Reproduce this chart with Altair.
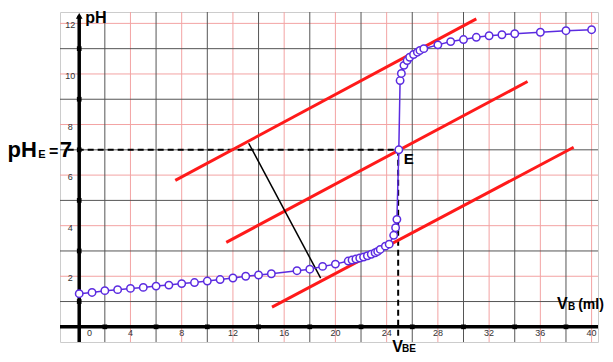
import altair as alt
import pandas as pd

# ---- titration curve (volume of base in ml, pH) ----
vb = [0, 1, 2, 3, 4, 5, 6, 7, 8, 9, 10, 11, 12, 13, 14, 15, 17, 18, 19, 20,
      21.0, 21.3, 21.6, 21.9, 22.2, 22.5, 22.8, 23.1, 23.3, 23.5, 23.9, 24.2,
      24.55, 24.7, 24.8, 24.95, 25.05, 25.15, 25.35, 25.6, 25.8, 26.1, 26.4,
      26.6, 26.9, 28, 29, 30, 31, 32, 33, 34, 36, 38, 40]
ph = [1.31, 1.36, 1.43, 1.47, 1.52, 1.56, 1.61, 1.65, 1.71, 1.75, 1.81, 1.87,
      1.93, 2.0, 2.05, 2.10, 2.22, 2.28, 2.39, 2.48,
      2.60, 2.64, 2.68, 2.72, 2.76, 2.81, 2.87, 2.93, 2.98, 3.06, 3.19, 3.27,
      3.62, 3.92, 4.25, 7.0, 9.74, 10.02, 10.34, 10.53, 10.66, 10.77, 10.86,
      10.93, 11.0, 11.15, 11.28, 11.36, 11.45, 11.51, 11.55, 11.59, 11.65,
      11.71, 11.75]

# ---- parallel tangents (start x, start y, end x, end y) ----
tan_x1 = [7.5, 11.48, 15.05]
tan_y1 = [5.79, 3.34, 0.78]
tan_x2 = [31.0, 35.0, 38.6]
tan_y2 = [12.18, 9.70, 7.10]

# ---- perpendicular segment ----
perp_x = [13.23, 18.85]
perp_y = [7.26, 1.93]

# ---- equivalence point ----
ph_e = 7
vb_e = 24.9

# ---- grid / ticks ----
x_dom = [-1.5, 40.5]
y_dom = [-0.6, 12.45]
grid_v_red = list(range(4, 41, 4))
grid_v_black = list(range(2, 39, 4))
grid_h_red = list(range(2, 13, 2))
grid_h_black = list(range(1, 12, 2))
xtick_labels = ["0", "4", "8", "12", "16", "20", "24", "28", "32", "36", "40"]
xtick_pos = [0.8, 4, 8, 12, 16, 20, 24, 28, 32, 36, 40]
ytick_labels = ["2", "4", "6", "8", "10", "12"]
ytick_pos = [2, 4, 6, 8, 10, 12]

FONT = "Liberation Sans"
PURPLE = "#5b2be0"
RED = "#ff1a1a"

xs = alt.Scale(domain=x_dom, nice=False, zero=False)
ys = alt.Scale(domain=y_dom, nice=False, zero=False)


def X(f="x"):
    return alt.X(f"{f}:Q", scale=xs, axis=None)


def Y(f="y"):
    return alt.Y(f"{f}:Q", scale=ys, axis=None)


def rules(rows):
    return pd.DataFrame(rows, columns=["x", "y", "x2", "y2"])


vred = rules([(v, y_dom[0], v, y_dom[1]) for v in grid_v_red])
vblack = rules([(v, y_dom[0], v, y_dom[1]) for v in grid_v_black])
hred = rules([(x_dom[0], v, x_dom[1], v) for v in grid_h_red])
hblack = rules([(x_dom[0], v, x_dom[1], v) for v in grid_h_black])
axes_df = rules([(0, y_dom[0], 0, 12.3), (x_dom[0], 0, x_dom[1], 0)])
dash_df = rules([(-0.9, ph_e, vb_e, ph_e), (vb_e, ph_e, vb_e, -0.35)])
tan_df = pd.DataFrame({"x": tan_x1, "y": tan_y1, "x2": tan_x2, "y2": tan_y2})
perp_df = rules([(perp_x[0], perp_y[0], perp_x[1], perp_y[1])])


def rule_layer(df, color, width, dash=None):
    kw = dict(color=color, strokeWidth=width)
    if dash:
        kw["strokeDash"] = dash
    return alt.Chart(df).mark_rule(**kw).encode(
        x=X("x"), y=Y("y"), x2="x2:Q", y2="y2:Q")


curve_df = pd.DataFrame({"x": vb, "y": ph})
curve_line = alt.Chart(curve_df).mark_line(color=PURPLE, strokeWidth=1.5).encode(
    x=X(), y=Y())
curve_pts = alt.Chart(curve_df).mark_point(
    shape="circle", filled=True, fill="white", stroke=PURPLE, strokeWidth=1.5,
    size=55, opacity=1).encode(x=X(), y=Y())

dots_df = pd.DataFrame(
    {"x": [0] * len(grid_h_black) + grid_v_black,
     "y": grid_h_black + [0] * len(grid_v_black)})
dots = alt.Chart(dots_df).mark_square(color="black", size=22, opacity=1).encode(
    x=X(), y=Y())

arrow = alt.Chart(pd.DataFrame({"x": [0], "y": [12.3]})).mark_point(
    shape="triangle-up", filled=True, color="black", size=45, opacity=1).encode(
    x=X(), y=Y())

xt_df = pd.DataFrame({"x": xtick_pos, "y": [-0.26] * len(xtick_pos), "t": xtick_labels})
yt_df = pd.DataFrame({"x": [-0.7] * len(ytick_pos), "y": ytick_pos, "t": ytick_labels})
xt = alt.Chart(xt_df).mark_text(font=FONT, fontSize=9, color="#333",
                                baseline="middle", align="center").encode(
    x=X(), y=Y(), text="t:N")
yt = alt.Chart(yt_df).mark_text(font=FONT, fontSize=9, color="#333",
                                baseline="middle", align="center", dy=2).encode(
    x=X(), y=Y(), text="t:N")


def label(x, y, t, size, align="left"):
    df = pd.DataFrame({"x": [x], "y": [y], "t": [t]})
    return alt.Chart(df).mark_text(font=FONT, fontSize=size, fontWeight="bold",
                                   color="black", align=align,
                                   baseline="alphabetic").encode(
        x=X(), y=Y(), text="t:N")


labels = [
    label(0.47, 12.01, "pH", 16),
    label(-5.6, 6.70, "pH", 22),
    label(-3.2, 6.66, "E", 11),
    label(-2.0, 6.72, "=", 16, align="center"),
    label(-1.05, 6.70, "7", 22, align="center"),
    label(25.33, 6.45, "E", 15),
    label(37.3, 0.72, "V", 16),
    label(38.15, 0.68, "B", 10),
    label(38.95, 0.72, "(ml)", 14),
    label(24.43, -0.98, "V", 16),
    label(25.2, -1.0, "BE", 10),
]

chart = alt.layer(
    rule_layer(vred, "#f3a3a3", 1),
    rule_layer(hred, "#f3a3a3", 1),
    rule_layer(vblack, "#555555", 1),
    rule_layer(hblack, "#555555", 1),
    rule_layer(axes_df, "black", 3.5),
    rule_layer(dash_df, "black", 2, [6, 4]),
    rule_layer(tan_df, RED, 3),
    rule_layer(perp_df, "black", 1.5),
    curve_line,
    curve_pts,
    dots,
    arrow,
    xt,
    yt,
    *labels,
).properties(
    width=538, height=330,
    autosize=alt.AutoSizeParams(type="none"),
    padding={"left": 52, "top": 4, "right": 7, "bottom": 12},
).configure_view(stroke="#cccccc", strokeWidth=1)

chart.save("out.html", embed_options={"renderer": "svg", "actions": False})
